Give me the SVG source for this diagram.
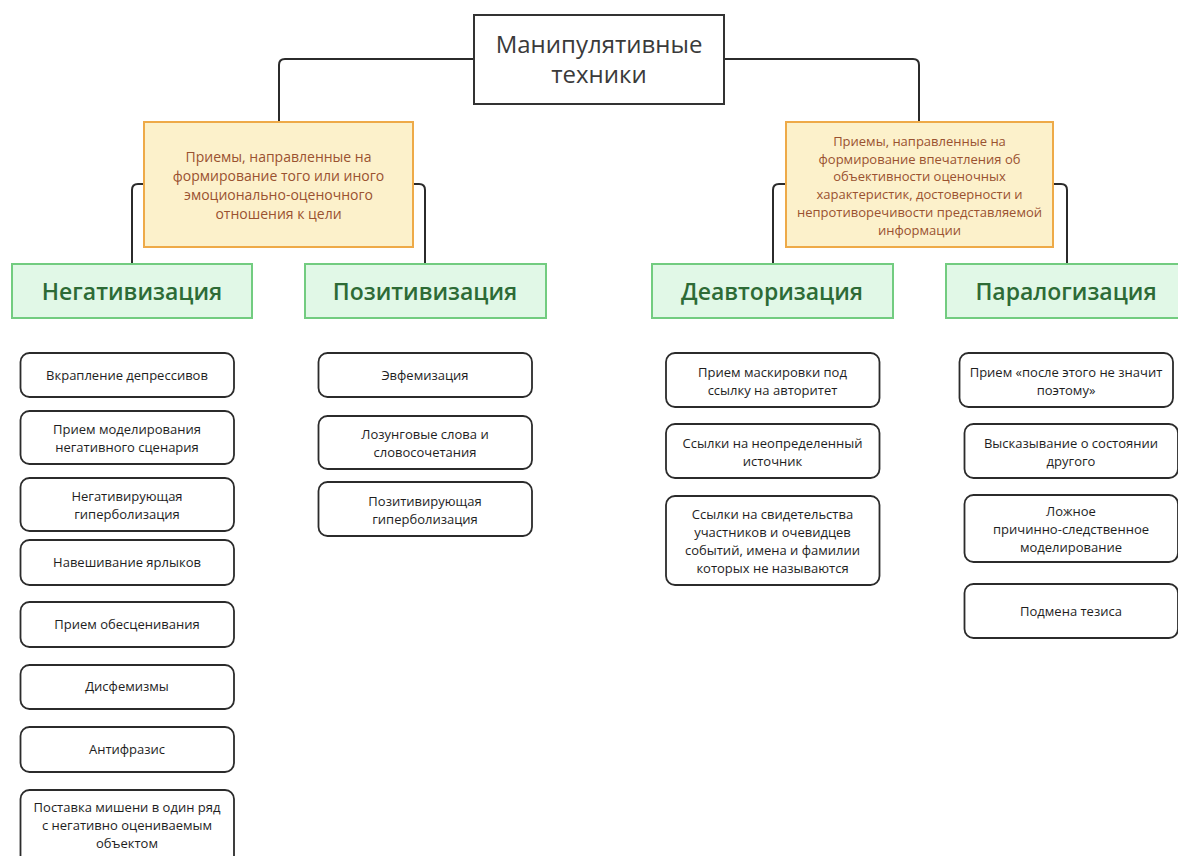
<svg xmlns="http://www.w3.org/2000/svg" width="1178" height="856" viewBox="0 0 1178 856">
<style>
.root{fill:#fff;stroke:#333;stroke-width:2}
.rootT{font-family:"Open Sans","Noto Sans",sans-serif;font-size:24px;fill:#3a3a3a;text-anchor:middle}
.cat{fill:#fcf1cb;stroke:#eeaa48;stroke-width:2}
.catT{font-family:"Open Sans","Noto Sans",sans-serif;fill:#9a5230;text-anchor:middle}
.grp{fill:#e1f8e7;stroke:#72cc80;stroke-width:2}
.grpT{font-family:"Open Sans","Noto Sans",sans-serif;font-size:23px;font-weight:600;fill:#2d6b36;text-anchor:middle}
.leaf{fill:#fff;stroke:#2b2b2b;stroke-width:1.8}
.leafT{font-family:"Open Sans","Noto Sans",sans-serif;font-size:13px;fill:#1e1e1e;text-anchor:middle}
.con{fill:none;stroke:#2b2b2b;stroke-width:2}
</style>
<rect width="1178" height="856" fill="#fff"/>
<g id="connectors">
<path class="con" d="M474,59 H285 Q279,59 279,65 V122"/>
<path class="con" d="M724,59 H913 Q919,59 919,65 V122"/>
<path class="con" d="M144,184 H138 Q132,184 132,190 V264"/>
<path class="con" d="M413,184 H419 Q425,184 425,190 V264"/>
<path class="con" d="M786,184 H779 Q773,184 773,190 V264"/>
<path class="con" d="M1053,184 H1061 Q1067,184 1067,190 V264"/>
</g>
<g id="root">
<rect class="root" x="474" y="15" width="250" height="89"/>
<text class="rootT" x="599" y="53">Манипулятивные</text>
<text class="rootT" x="599" y="83">техники</text>
</g>
<g id="cat-emotional">
<rect class="cat" x="144" y="122" width="269" height="125"/>
<text class="catT" font-size="14" x="278.5"><tspan x="278.5" y="162">Приемы, направленные на</tspan><tspan x="278.5" y="181">формирование того или иного</tspan><tspan x="278.5" y="200">эмоционально-оценочного</tspan><tspan x="278.5" y="219">отношения к цели</tspan></text>
</g>
<g id="cat-objective">
<rect class="cat" x="786" y="122" width="267" height="125"/>
<text class="catT" font-size="13" x="919.5"><tspan x="919.5" y="145.5">Приемы, направленные на</tspan><tspan x="919.5" y="163.5">формирование впечатления об</tspan><tspan x="919.5" y="181">объективности оценочных</tspan><tspan x="919.5" y="199">характеристик, достоверности и</tspan><tspan x="919.5" y="216.5">непротиворечивости представляемой</tspan><tspan x="919.5" y="234.5">информации</tspan></text>
</g>
<g id="g-neg">
<rect class="grp" x="12" y="264" width="240" height="54"/>
<text class="grpT" x="132" y="300">Негативизация</text>
</g>
<g id="g-pos">
<rect class="grp" x="305" y="264" width="241" height="54"/>
<text class="grpT" x="425" y="300">Позитивизация</text>
</g>
<g id="g-deav">
<rect class="grp" x="652" y="264" width="241" height="54"/>
<text class="grpT" x="772" y="300">Деавторизация</text>
</g>
<g id="g-paral">
<rect class="grp" x="946" y="264" width="241" height="54"/>
<text class="grpT" x="1066" y="300">Паралогизация</text>
</g>
<g id="n1"><rect class="leaf" x="20.5" y="353" width="213.5" height="44" rx="9"/><text class="leafT" x="127" y="380">Вкрапление депрессивов</text></g>
<g id="n2"><rect class="leaf" x="20.5" y="411" width="213.5" height="53" rx="9"/><text class="leafT"><tspan x="127" y="434">Прием моделирования</tspan><tspan x="127" y="452">негативного сценария</tspan></text></g>
<g id="n3"><rect class="leaf" x="20.5" y="478" width="213.5" height="53" rx="9"/><text class="leafT"><tspan x="127" y="501">Негативирующая</tspan><tspan x="127" y="519">гиперболизация</tspan></text></g>
<g id="n4"><rect class="leaf" x="20.5" y="540" width="213.5" height="45" rx="9"/><text class="leafT" x="127" y="567">Навешивание ярлыков</text></g>
<g id="n5"><rect class="leaf" x="20.5" y="602" width="213.5" height="45" rx="9"/><text class="leafT" x="127" y="629">Прием обесценивания</text></g>
<g id="n6"><rect class="leaf" x="20.5" y="665" width="213.5" height="44" rx="9"/><text class="leafT" x="127" y="691">Дисфемизмы</text></g>
<g id="n7"><rect class="leaf" x="20.5" y="727" width="213.5" height="45" rx="9"/><text class="leafT" x="127" y="754">Антифразис</text></g>
<g id="n8"><rect class="leaf" x="20.5" y="790" width="213.5" height="80" rx="9"/><text class="leafT"><tspan x="127" y="812">Поставка мишени в один ряд</tspan><tspan x="127" y="830">с негативно оцениваемым</tspan><tspan x="127" y="848">объектом</tspan></text></g>
<g id="p1"><rect class="leaf" x="318.5" y="353" width="213.5" height="44" rx="9"/><text class="leafT" x="425" y="380">Эвфемизация</text></g>
<g id="p2"><rect class="leaf" x="318.5" y="416" width="213.5" height="53" rx="9"/><text class="leafT"><tspan x="425" y="439">Лозунговые слова и</tspan><tspan x="425" y="457">словосочетания</tspan></text></g>
<g id="p3"><rect class="leaf" x="318.5" y="482" width="213.5" height="54" rx="9"/><text class="leafT"><tspan x="425" y="506">Позитивирующая</tspan><tspan x="425" y="524">гиперболизация</tspan></text></g>
<g id="d1"><rect class="leaf" x="666" y="353" width="213.5" height="54" rx="9"/><text class="leafT"><tspan x="772.5" y="377">Прием маскировки под</tspan><tspan x="772.5" y="395">ссылку на авторитет</tspan></text></g>
<g id="d2"><rect class="leaf" x="666" y="424" width="213.5" height="54" rx="9"/><text class="leafT"><tspan x="772.5" y="448">Ссылки на неопределенный</tspan><tspan x="772.5" y="466">источник</tspan></text></g>
<g id="d3"><rect class="leaf" x="666" y="496" width="213.5" height="89" rx="9"/><text class="leafT"><tspan x="772.5" y="519">Ссылки на свидетельства</tspan><tspan x="772.5" y="537">участников и очевидцев</tspan><tspan x="772.5" y="555">событий, имена и фамилии</tspan><tspan x="772.5" y="573">которых не называются</tspan></text></g>
<g id="l1"><rect class="leaf" x="959.5" y="353" width="213.5" height="54" rx="9"/><text class="leafT"><tspan x="1066" y="377">Прием «после этого не значит</tspan><tspan x="1066" y="395">поэтому»</tspan></text></g>
<g id="l2"><rect class="leaf" x="964.5" y="424" width="213.5" height="54" rx="9"/><text class="leafT"><tspan x="1071" y="448">Высказывание о состоянии</tspan><tspan x="1071" y="466">другого</tspan></text></g>
<g id="l3"><rect class="leaf" x="964.5" y="495" width="213.5" height="67" rx="9"/><text class="leafT"><tspan x="1071" y="516">Ложное</tspan><tspan x="1071" y="534">причинно-следственное</tspan><tspan x="1071" y="552">моделирование</tspan></text></g>
<g id="l4"><rect class="leaf" x="964.5" y="584" width="213.5" height="54" rx="9"/><text class="leafT" x="1071" y="616">Подмена тезиса</text></g>
</svg>
